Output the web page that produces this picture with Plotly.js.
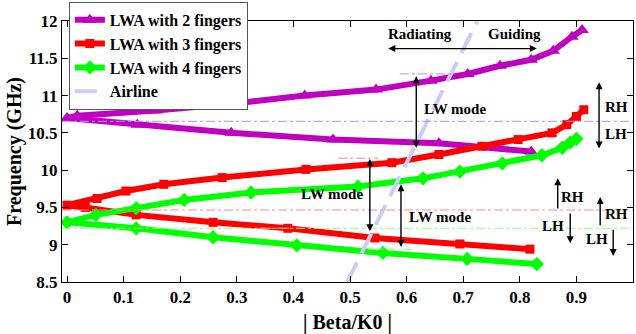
<!DOCTYPE html>
<html>
<head>
<meta charset="utf-8">
<script src="https://cdn.plot.ly/plotly-3.0.1.min.js"></script>
<style>html,body{margin:0;padding:0;background:#fff;}#chart{width:636px;height:334px;}</style>
</head>
<body>
<div id="chart"></div>
<script>
// ---- data ----
const seriesNames = ['LWA with 2 fingers', 'LWA with 3 fingers', 'LWA with 4 fingers', 'Airline'];

// 2 fingers (upper / lower branch)
const f2UpperX = [0, 0.018, 0.157, 0.29, 0.42, 0.546, 0.643, 0.708, 0.765, 0.82, 0.859, 0.892, 0.91];
const f2UpperY = [10.70, 10.73, 10.80, 10.89, 11.00, 11.08, 11.20, 11.29, 11.40, 11.48, 11.60, 11.79, 11.88];
const f2LowerX = [0, 0.124, 0.29, 0.47, 0.657, 0.82];
const f2LowerY = [10.70, 10.61, 10.50, 10.41, 10.36, 10.25];

// 3 fingers
const f3UpperX = [0, 0.053, 0.104, 0.171, 0.274, 0.422, 0.574, 0.657, 0.733, 0.797, 0.857, 0.883, 0.90, 0.913];
const f3UpperY = [9.53, 9.62, 9.72, 9.81, 9.90, 10.01, 10.10, 10.21, 10.32, 10.41, 10.50, 10.61, 10.72, 10.81];
const f3LowerX = [0, 0.032, 0.122, 0.258, 0.39, 0.544, 0.694, 0.818];
const f3LowerY = [9.53, 9.50, 9.40, 9.30, 9.22, 9.09, 9.01, 8.94];

// 4 fingers
const f4UpperX = [0, 0.051, 0.122, 0.207, 0.325, 0.514, 0.629, 0.694, 0.769, 0.839, 0.875, 0.889, 0.90];
const f4UpperY = [9.30, 9.40, 9.49, 9.60, 9.70, 9.78, 9.89, 9.98, 10.09, 10.20, 10.30, 10.37, 10.42];
const f4LowerX = [0, 0.122, 0.258, 0.406, 0.558, 0.707, 0.83];
const f4LowerY = [9.30, 9.22, 9.10, 8.99, 8.89, 8.81, 8.74];

// airline
const airX = [0.495, 0.725];
const airY = [8.5, 12.0];

// full-width reference frequencies (dash-dot)
const refFreqs = [10.655, 9.465, 9.22];
// short reference segments: [x0, x1, y]
const shortRefX0 = [0.588, 0.479, 0.335, 0.532];
const shortRefX1 = [0.68, 0.55, 0.40, 0.61];
const shortRefY = [11.29, 10.16, 9.22, 8.94];

const xTicks = [0, 0.1, 0.2, 0.3, 0.4, 0.5, 0.6, 0.7, 0.8, 0.9, 1];
const xTickText = ['0', '0.1', '0.2', '0.3', '0.4', '0.5', '0.6', '0.7', '0.8', '0.9', '1'];
const yTicks = [8.5, 9, 9.5, 10, 10.5, 11, 11.5, 12];
const yTickText = ['8.5', '9', '9.5', '10', '10.5', '11', '11.5', '12'];

// ---- build ----
function joinBranches(ux, uy, lx, ly) {
  return {
    x: ux.slice().reverse().concat(lx.slice(1)),
    y: uy.slice().reverse().concat(ly.slice(1))
  };
}
const s2 = joinBranches(f2UpperX, f2UpperY, f2LowerX, f2LowerY);
const s3 = joinBranches(f3UpperX, f3UpperY, f3LowerX, f3LowerY);
const s4 = joinBranches(f4UpperX, f4UpperY, f4LowerX, f4LowerY);

const serif = 'Liberation Serif';
const purple = '#bf00bf', red = '#ff0000', green = '#00ff00';

const traces = [
  {x: s2.x, y: s2.y, name: seriesNames[0], mode: 'lines+markers',
   line: {color: purple, width: 6}, marker: {symbol: 'triangle-up', size: 12, color: purple}},
  {x: s3.x, y: s3.y, name: seriesNames[1], mode: 'lines+markers',
   line: {color: red, width: 6}, marker: {symbol: 'square', size: 9, color: red}},
  {x: s4.x, y: s4.y, name: seriesNames[2], mode: 'lines+markers',
   line: {color: green, width: 6}, marker: {symbol: 'diamond', size: 11, color: green}},
  {x: airX, y: airY, name: seriesNames[3], mode: 'lines',
   line: {color: '#cbcdf6', width: 4, dash: '22px,10px'}}
];

const refColors = ['#b98cff', '#ff8a8a', '#8cff8c'];
const shortColors = ['#b98cff', '#ff8a8a', '#ff8a8a', '#8cff8c'];
const shapes = [];
refFreqs.forEach((f, i) => shapes.push({type: 'line', xref: 'paper', yref: 'y', x0: 0, x1: 1, y0: f, y1: f,
  line: {color: refColors[i], width: 1, dash: 'dashdot'}}));
shortRefY.forEach((f, i) => shapes.push({type: 'line', xref: 'x', yref: 'y', x0: shortRefX0[i], x1: shortRefX1[i], y0: f, y1: f,
  line: {color: shortColors[i], width: 1, dash: 'dashdot'}}));

const annFont = {family: serif, size: 15, color: '#000', weight: 'bold'};
function label(text, x, y) {
  return {text: '<b>' + text + '</b>', x: x, y: y, xref: 'x', yref: 'y', showarrow: false, font: annFont};
}
function arrow(x, y, ax, ay, dbl) {
  return {text: '', x: x, y: y, ax: ax, ay: ay, xref: 'x', yref: 'y', axref: 'x', ayref: 'y',
    showarrow: true, arrowhead: 2, arrowsize: 1, arrowwidth: 1.4, arrowcolor: '#000',
    arrowside: dbl ? 'end+start' : 'end', standoff: 0, startstandoff: 0};
}
const annotations = [
  label('Radiating', 0.624, 11.83),
  label('Guiding', 0.79, 11.83),
  arrow(0.83, 11.63, 0.565, 11.63, true),
  label('LW mode', 0.685, 10.82),
  arrow(0.617, 10.30, 0.617, 11.28, true),
  label('LW mode', 0.468, 9.68),
  arrow(0.535, 9.18, 0.535, 10.17, true),
  label('LW mode', 0.659, 9.37),
  arrow(0.59, 8.97, 0.59, 9.83, true),
  label('RH', 0.97, 10.85),
  label('LH', 0.97, 10.49),
  arrow(0.94, 10.29, 0.94, 11.2, true),
  arrow(0.867, 9.89, 0.867, 9.465, false),
  label('RH', 0.893, 9.64),
  arrow(0.889, 9.02, 0.889, 9.44, false),
  label('LH', 0.859, 9.25),
  arrow(0.942, 9.64, 0.942, 9.24, false),
  label('RH', 0.97, 9.41),
  arrow(0.965, 8.85, 0.965, 9.22, false),
  label('LH', 0.936, 9.08)
];

const tickFont = {family: serif, size: 17, color: '#000', weight: 'bold'};
const layout = {
  width: 636, height: 334,
  margin: {l: 62, r: 3, t: 20, b: 52, pad: 0},
  paper_bgcolor: '#fff', plot_bgcolor: '#fff',
  showlegend: true,
  legend: {x: 0.012, y: 1.069, xanchor: 'left', yanchor: 'top',
    bgcolor: '#fff', bordercolor: '#555', borderwidth: 1,
    font: {family: serif, size: 16, color: '#000', weight: 'bold'},
    itemwidth: 30, tracegroupgap: 0},
  xaxis: {range: [-0.009, 1.0], tickvals: xTicks, ticktext: xTickText,
    ticks: 'inside', ticklen: 6, tickcolor: '#000', mirror: 'ticks',
    showline: true, linecolor: '#000', linewidth: 1, showgrid: false, zeroline: false,
    tickfont: tickFont,
    title: {text: '<b>| Beta/K0 |</b>', font: {family: serif, size: 20, color: '#000', weight: 'bold'}, standoff: 10}},
  yaxis: {range: [8.5, 12], tickvals: yTicks, ticktext: yTickText,
    ticks: 'inside', ticklen: 6, tickcolor: '#000', mirror: 'ticks',
    showline: true, linecolor: '#000', linewidth: 1, showgrid: false, zeroline: false,
    tickfont: tickFont,
    title: {text: '<b>Frequency (GHz)</b>', font: {family: serif, size: 20, color: '#000', weight: 'bold'}, standoff: 0}},
  shapes: shapes,
  annotations: annotations
};

Plotly.newPlot('chart', traces, layout, {staticPlot: true, displayModeBar: false});
</script>
</body>
</html>
